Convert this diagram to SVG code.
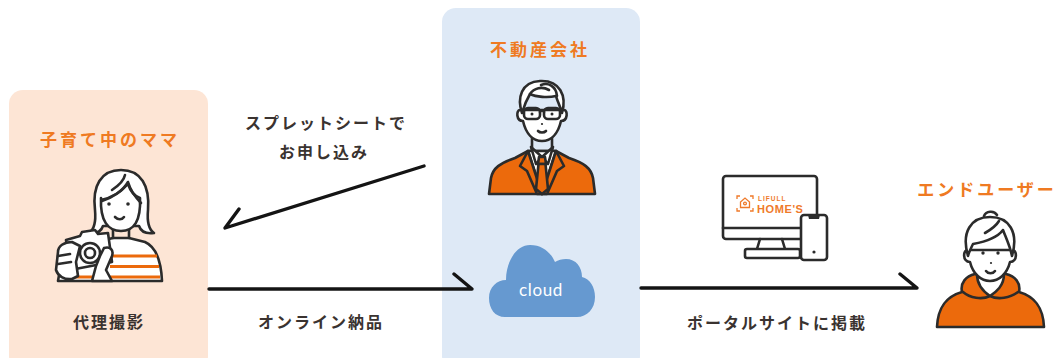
<svg xmlns="http://www.w3.org/2000/svg" width="1057" height="358" viewBox="0 0 1057 358">
  <style>
    .title { font-family: "Noto Sans CJK JP", "Noto Sans", sans-serif; font-size: 17px; font-weight: 700; fill: #ef7a22; letter-spacing: 3px; text-anchor: middle; }
    .label { font-family: "Noto Sans CJK JP", "Noto Sans", sans-serif; font-size: 16px; font-weight: 700; fill: #3a3330; letter-spacing: 2px; text-anchor: middle; }
    .line { fill: none; stroke: #2b2b2b; stroke-width: 2.6; stroke-linecap: round; stroke-linejoin: round; }
    .ink { stroke: #2b2b2b; stroke-width: 2.6; stroke-linecap: round; stroke-linejoin: round; }
    .arrow { fill: none; stroke: #141414; stroke-width: 3.4; stroke-linecap: round; stroke-linejoin: round; }
    .orange { fill: #ec6a0c; }
    .white { fill: #ffffff; }
  </style>

  <rect width="1057" height="358" fill="#ffffff"/>

  <!-- Mother (photographer) -->
  <g id="node-mama">
    <rect x="9" y="90" width="199" height="280" rx="14" fill="#fde5d5"/>
    <text class="title" x="110" y="146">子育て中のママ</text>
    <!-- shirt -->
    <path class="ink white" d="M58 281 C60 262 72 250 96 242 L113 238 L129 238 L145 242 C154 246 161 258 162 281 Z"/>
    <path d="M112 256 H157 M110 266.5 H159 M74 277 H160" fill="none" stroke="#ec6a0c" stroke-width="3"/>
    <!-- neck -->
    <path class="line" d="M113 229 V238 M129 229 V238"/>
    <!-- hair -->
    <path class="ink white" d="M89 233 C95 229 96 221 95 210 C92 186 101 170 121 170 C141 170 150 186 148 210 C147 221 148 229 154 233 C146 234 141 232 139 226 L103 226 C101 232 96 234 89 233 Z"/>
    <!-- face -->
    <path class="ink white" d="M101 198 C100 221 108 231 121 231 C134 231 141 221 140 198 C134 196 130 190 128 184 C120 193 110 198 101 200 Z"/>
    <path class="line" d="M102 201 C112 198 123 191 128 182 C131 192 136 198 141 203"/>
    <path class="line" d="M112 190 C118 186 124 180 125 175"/>
    <circle cx="109" cy="204" r="1.8" fill="#2b2b2b"/>
    <circle cx="128" cy="204" r="1.8" fill="#2b2b2b"/>
    <path class="line" d="M115 217 C118 220 122 220 124 217"/>
    <!-- camera -->
    <path class="ink white" d="M66 240 L80 236 L82 232 L95 230 L98 234 L108 233 L112 262 L70 270 Z"/>
    <circle class="ink white" cx="90" cy="253" r="10"/>
    <circle class="ink white" cx="90" cy="253" r="5"/>
    <!-- hands -->
    <path class="ink white" d="M72 242 C64 242 58 246 58 252 L56 270 C58 276 64 280 72 279 L78 276 L76 262 L80 246 Z"/>
    <path class="line" d="M58 256 L70 254 M58 264 L71 262"/>
    <path class="ink white" d="M100 256 L104 248 C110 246 114 250 112 256 L106 270 L112 281 L92 281 L96 266 Z"/>
  </g>

  <!-- Real estate company -->
  <g id="node-company">
    <rect x="442" y="8" width="198" height="362" rx="14" fill="#dee9f6"/>
    <text class="title" x="540" y="56">不動産会社</text>
    <!-- jacket -->
    <path class="ink orange" d="M489 194 L491 178 C493 168 500 163 515 158 L528 151 L556 151 L569 158 C584 163 591 168 593 178 L595 194 Z"/>
    <path class="ink white" d="M528 151 L542 194 L556 151 Z"/>
    <path class="ink orange" d="M528 151 L520 166 L527 171 L537 194 L542 194 Z"/>
    <path class="ink orange" d="M556 151 L564 166 L557 171 L547 194 L542 194 Z"/>
    <!-- neck and collar -->
    <path class="line" d="M532 137 V149 M552 137 V149"/>
    <path class="ink white" d="M531 147 L542 157 L536 164 Z"/>
    <path class="ink white" d="M553 147 L542 157 L548 164 Z"/>
    <!-- tie -->
    <path class="ink orange" d="M539 157 L545 157 L546 164 L538 164 Z"/>
    <path class="ink orange" d="M538.5 164 L536 189 L542 194 L548 189 L545.5 164 Z"/>
    <!-- head -->
    <path class="ink white" d="M520 110 C516 110 516 121 523 121 C526 134 533 141 542 141 C551 141 558 134 561 121 C568 121 568 110 564 110 L561 110 L523 110 Z"/>
    <path class="ink white" d="M522 113 C517 98 521 82 540 81 C560 80 567 96 562 113 C560 106 557 100 556 96 C548 98 536 97 530 94 C527 99 524 106 522 113 Z"/>
    <path class="line" d="M530 94 C534 88 542 86 549 90 M541 85 C548 82 556 86 557 96"/>
    <!-- glasses -->
    <rect class="ink" x="524" y="108" width="16" height="11" rx="4" fill="none"/>
    <rect class="ink" x="544" y="108" width="16" height="11" rx="4" fill="none"/>
    <path class="line" d="M540 112 C541 110 543 110 544 112"/>
    <circle cx="532" cy="114" r="1.5" fill="#2b2b2b"/>
    <circle cx="552" cy="114" r="1.5" fill="#2b2b2b"/>
    <circle cx="542" cy="124" r="1.1" fill="#2b2b2b"/>
    <path class="line" d="M538 131 C540 133 544 133 546 131"/>
  </g>

  <!-- Cloud storage -->
  <g id="node-cloud">
    <path fill="#6699d0" d="M505 317 C495 317 489 309 489 298 C489 287 497 280 506 280 C506 262 516 245 530 245 C543 245 551 253 555 262 C558 260 562 259 566 259 C576 259 582 267 582 277 C590 279 595 287 595 297 C595 309 587 317 577 317 Z"/>
    <text x="541" y="296" font-family="Lato, 'Noto Sans', sans-serif" font-size="17" fill="#ffffff" text-anchor="middle" letter-spacing="0.6">cloud</text>
  </g>

  <!-- Portal site devices -->
  <g id="node-portal">
    <rect class="ink" x="723" y="176" width="94" height="63" rx="3" fill="#ffffff"/>
    <path class="line" d="M723 228 H817"/>
    <path class="line" d="M760 239 L757 249 M782 239 L785 249"/>
    <rect class="ink" x="745" y="249" width="55" height="9" rx="2" fill="#ffffff"/>
    <rect class="ink" x="801" y="215" width="26" height="45" rx="3" fill="#ffffff"/>
    <path fill="#2b2b2b" d="M808 215 H820 L819 219 H809 Z"/>
    <circle cx="814" cy="252" r="1.6" fill="#2b2b2b"/>
    <!-- LIFULL HOME'S logo -->
    <g fill="none" stroke="#ef7a2a" stroke-width="1.3">
      <path d="M737 199 V196 H740 M750 196 H753 V199 M753 208 V211 H750 M740 211 H737 V208"/>
      <path d="M740.5 207.5 V202 L745 198 L749.5 202 V207.5 Z"/>
      <circle cx="745" cy="203.5" r="1.4"/>
    </g>
    <text x="758" y="201" font-family="'Liberation Sans', Arial, sans-serif" font-size="6.5" font-weight="700" fill="#ef7a2a" letter-spacing="1">LIFULL</text>
    <text x="757" y="213" font-family="'Liberation Sans', Arial, sans-serif" font-size="11" font-weight="700" fill="#ef7a2a" letter-spacing="0.6">HOME'S</text>
  </g>

  <!-- End user -->
  <g id="node-enduser">
    <text class="title" x="987" y="196" letter-spacing="2">エンドユーザー</text>
    <!-- hoodie -->
    <path class="ink orange" d="M937 327 C938 305 948 296 962 292 C960 283 966 276 975 274 L1006 274 C1015 276 1021 283 1019 292 C1033 296 1043 305 1044 327 Z"/>
    <path class="ink white" d="M977 274 C977 286 984 292 990 296 C996 292 1004 286 1004 274 Z"/>
    <path class="line" d="M963 292 C970 298 982 300 990 296 C998 300 1010 298 1018 292"/>
    <!-- head -->
    <path class="ink white" d="M968 250 C963 249 962 262 970 262 C973 274 981 281 990 281 C999 281 1007 274 1010 262 C1018 262 1017 249 1012 250 Z"/>
    <path class="ink white" d="M968 256 C961 232 971 217 990 217 C1009 217 1019 232 1012 256 C1010 246 1006 238 1003 230 C997 238 984 242 973 244 C971 248 969 252 968 256 Z"/>
    <path class="line" d="M985 233 C992 229 996 226 999 221 M984 216 C986 211 994 210 997 215"/>
    <circle cx="983" cy="253" r="1.7" fill="#2b2b2b"/>
    <circle cx="998" cy="253" r="1.7" fill="#2b2b2b"/>
    <circle cx="991" cy="263" r="1.1" fill="#2b2b2b"/>
    <path class="line" d="M986 271 C988 274 993 274 995 271"/>
  </g>

  <!-- Connectors -->
  <g id="connectors">
    <path class="arrow" d="M424 166 L225 228 L239 209"/>
    <path class="arrow" d="M209 289 H472 L454 274"/>
    <path class="arrow" d="M641 288 H917 L900 274"/>
    <text class="label" x="326" y="129">スプレットシートで</text>
    <text class="label" x="324" y="158">お申し込み</text>
    <text class="label" x="109" y="328" letter-spacing="4">代理撮影</text>
    <text class="label" x="321" y="328">オンライン納品</text>
    <text class="label" x="777" y="329">ポータルサイトに掲載</text>
  </g>
</svg>
